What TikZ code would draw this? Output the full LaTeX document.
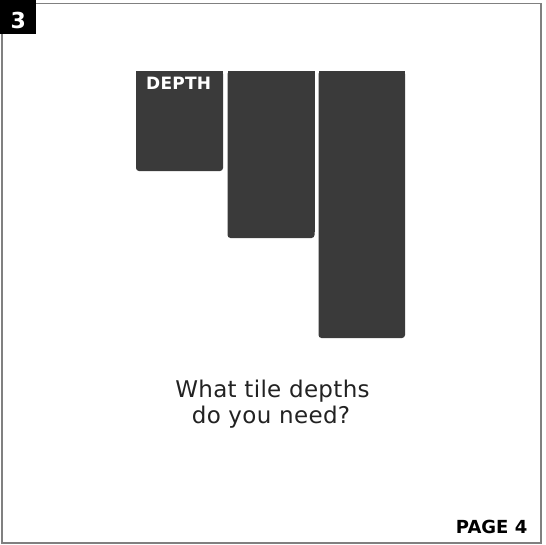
\documentclass[tikz,border=0pt]{standalone}
\usepackage{fontspec}
\setmainfont{DejaVu Sans}
\newfontfamily\boldf{DejaVu Sans Bold}
\newfontfamily\depthf[LetterSpace=1.5]{DejaVu Sans Bold}
\newfontfamily\qfont[LetterSpace=1.5]{DejaVu Sans}
\definecolor{barc}{HTML}{3A3A3A}
\definecolor{framec}{HTML}{808080}
\definecolor{txtc}{HTML}{222222}
\tikzset{
  bar/.style={fill=barc},
  framebox/.style={draw=framec, line width=1.5pt},
  qtext/.style={inner sep=0pt, anchor=base, text=txtc, font=\qfont\fontsize{23}{27}\selectfont},
}
\begin{document}
\begin{tikzpicture}[x=1pt,y=-1pt]
\useasboundingbox (0,0) rectangle (546,544);
\fill[white] (0,0) rectangle (546,544);
\draw[framebox] (1.8,3.3) rectangle (541.2,542.8);
% number badge
\fill[black] (0,0) rectangle (35.5,34);
\node[inner sep=0pt, anchor=base, text=white, font=\boldf\fontsize{22}{24}\selectfont] (num) at (18.3,28.3) {3};
% bars
\foreach \xa/\xb/\yb/\nm in {136/223/171/b1, 227.5/314.5/238/b2, 318.5/405/338/b3}{
  \fill[bar, rounded corners=3pt] (\xa,71) rectangle (\xb,\yb);
  \fill[bar] (\xa,71) rectangle (\xb,\yb-6);
  \coordinate (\nm) at (\xa,71);
}
\node[inner sep=0pt, anchor=base west, text=white, font=\depthf\fontsize{17}{19}\selectfont] (depth) at (146,89) {DEPTH};
% question
\node[qtext] (q1) at (272.5,397.5) {What tile depths};
\node[qtext] (q2) at (271,423) {do you need?};
% page
\node[inner sep=0pt, anchor=base east, text=black, font=\boldf\fontsize{18}{20}\selectfont] (page) at (527.5,533) {PAGE 4};
\end{tikzpicture}
\end{document}
